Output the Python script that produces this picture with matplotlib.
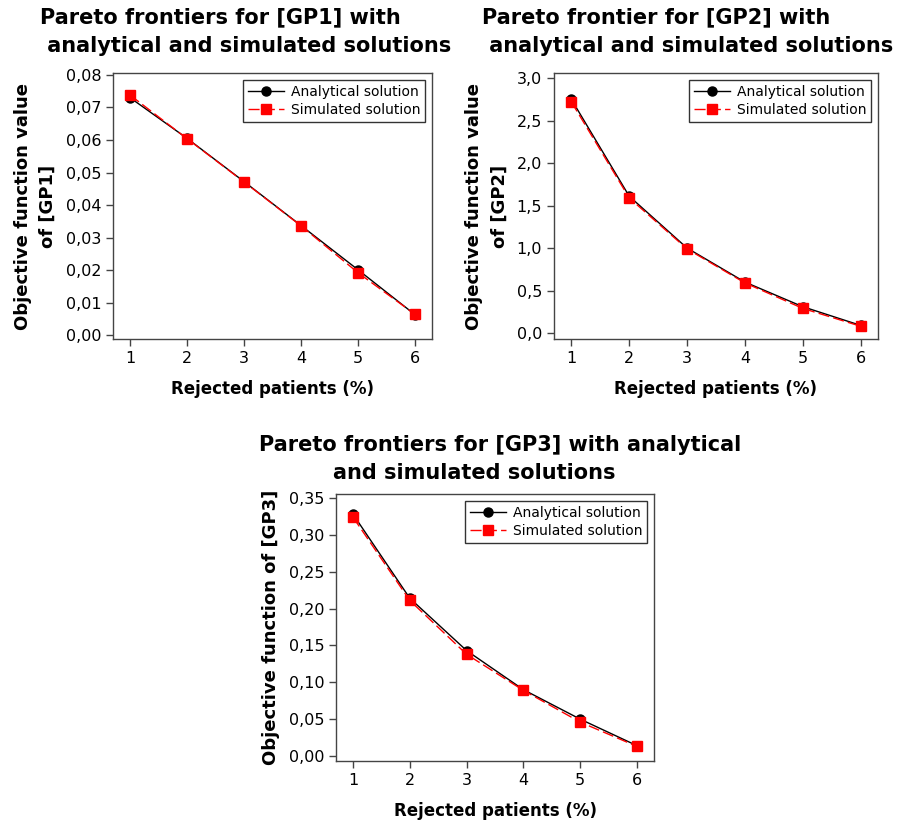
import matplotlib
matplotlib.use("Agg")
import matplotlib.pyplot as plt
from matplotlib.ticker import FuncFormatter, MultipleLocator

# rejected patients (%)
rejected = [1, 2, 3, 4, 5, 6]

gp1_analytical = [0.0730, 0.0605, 0.0472, 0.0337, 0.0201, 0.0063]
gp1_simulated = [0.0738, 0.0604, 0.0471, 0.0336, 0.0192, 0.0064]

gp2_analytical = [2.75, 1.61, 1.00, 0.60, 0.31, 0.09]
gp2_simulated = [2.72, 1.59, 0.99, 0.59, 0.29, 0.08]

gp3_analytical = [0.328, 0.214, 0.143, 0.090, 0.050, 0.014]
gp3_simulated = [0.324, 0.211, 0.138, 0.089, 0.046, 0.013]

titles = [
    "Pareto frontiers for [GP1] with\n analytical and simulated solutions",
    "Pareto frontier for [GP2] with\n analytical and simulated solutions",
    "Pareto frontiers for [GP3] with analytical\nand simulated solutions",
]
ylabels = [
    "Objective function value\nof [GP1]",
    "Objective function value\nof [GP2]",
    "Objective function of [GP3]",
]
xlabel = "Rejected patients (%)"

plt.rcParams["font.family"] = ["DejaVu Sans"]

fig = plt.figure(figsize=(8.99, 8.22), dpi=100)

W, H = 899.0, 822.0


def axes_px(left, top, right, bottom):
    return fig.add_axes([left / W, 1 - bottom / H, (right - left) / W, (bottom - top) / H])


def comma(decimals):
    return FuncFormatter(lambda v, p: f"{v:.{decimals}f}".replace(".", ","))


def draw(ax, ana, sim, ylim, step, decimals, ylabel):
    ax.plot(rejected, ana, color="black", lw=1.0, marker="o", ms=6.5,
            label="Analytical solution")
    ax.plot(rejected, sim, color="red", lw=1.0, ls=(0, (8, 3)), marker="s", ms=6.5,
            label="Simulated solution")
    ax.set_xlim(0.7, 6.3)
    ax.set_ylim(*ylim)
    ax.set_xticks(rejected)
    ax.yaxis.set_major_locator(MultipleLocator(step))
    ax.yaxis.set_major_formatter(comma(decimals))
    ax.tick_params(direction="out", length=5, width=1, labelsize=11.5, color="#444444")
    for s in ax.spines.values():
        s.set_color("#444444")
        s.set_linewidth(1.0)
    ax.set_xlabel(xlabel, fontsize=12, fontweight="bold", labelpad=10)
    ax.set_ylabel(ylabel, fontsize=13, fontweight="bold", labelpad=6, linespacing=1.5)
    leg = ax.legend(loc="upper right", fontsize=10, frameon=True, fancybox=False,
                    edgecolor="black", handlelength=2.6, borderpad=0.35,
                    labelspacing=0.3, borderaxespad=0.5, handletextpad=0.5)
    leg.get_frame().set_linewidth(1.0)


ax1 = axes_px(113, 73, 432, 339)
draw(ax1, gp1_analytical, gp1_simulated, (-0.0012, 0.0806), 0.01, 2, ylabels[0])

ax2 = axes_px(554, 73, 878, 339)
draw(ax2, gp2_analytical, gp2_simulated, (-0.07, 3.06), 0.5, 1, ylabels[1])

ax3 = axes_px(336, 494, 654, 761)
draw(ax3, gp3_analytical, gp3_simulated, (-0.0068, 0.3555), 0.05, 2, ylabels[2])

title_kw = dict(fontsize=15, fontweight="bold", va="center", linespacing=1.55)
fig.text(40 / W, 1 - 32 / H, titles[0], ha="left", **title_kw)
fig.text(482 / W, 1 - 32 / H, titles[1], ha="left", **title_kw)
line1, line2 = titles[2].split("\n")
fig.text(500 / W, 1 - 445 / H, line1, ha="center", **title_kw)
fig.text(474 / W, 1 - 473 / H, line2, ha="center", **title_kw)

fig.savefig("out.png", dpi=100)
